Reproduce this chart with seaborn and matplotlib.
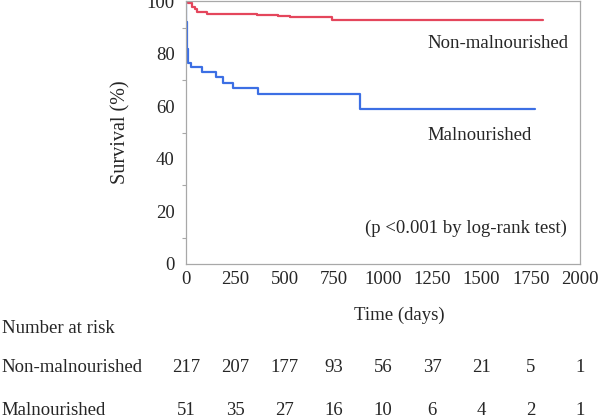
import numpy as np
import pandas as pd
import matplotlib
matplotlib.use('Agg')
import matplotlib.pyplot as plt
import matplotlib.transforms as mtransforms
import seaborn as sns

# Kaplan-Meier curves
non_mal_days = [0, 10, 30, 46, 56, 107, 360, 467, 528, 741, 1812]
non_mal_surv = [100, 99.2, 97.7, 97.0, 95.8, 95.3, 94.7, 94.3, 94.0, 93.0, 93.0]
mal_days = [0, 1, 2, 3, 4, 5, 6, 7, 8, 12, 25, 80, 150, 190, 240, 365, 885, 1770]
mal_surv = [100, 96, 92, 90, 88, 86, 84, 82, 78.5, 76.5, 75, 73, 71, 69, 67, 64.7, 58.8, 58.8]

# Number at risk table
risk_days = [0, 250, 500, 750, 1000, 1250, 1500, 1750, 2000]
risk_non_mal = [217, 207, 177, 93, 56, 37, 21, 5, 1]
risk_mal = [51, 35, 27, 16, 10, 6, 4, 2, 1]

RED = '#e4465c'
BLUE = '#3c6fe4'
GREY = '#a8a8a8'
FS = 13.5

sns.set_style('white')
plt.rcParams['font.family'] = ['Liberation Serif', 'DejaVu Serif']

df = pd.concat([
    pd.DataFrame({'days': non_mal_days, 'surv': non_mal_surv, 'group': 'Non-malnourished'}),
    pd.DataFrame({'days': mal_days, 'surv': mal_surv, 'group': 'Malnourished'}),
])

fig = plt.figure(figsize=(5.98, 4.19), dpi=100)
ax = fig.add_axes([0.311, 0.370, 0.659, 0.627])

sns.lineplot(data=df, x='days', y='surv', hue='group', estimator=None,
             palette={'Non-malnourished': RED, 'Malnourished': BLUE},
             drawstyle='steps-post', linewidth=1.6, legend=False, ax=ax)

ax.set_xlim(0, 2000)
ax.set_ylim(0, 100)
ax.set_xticks(risk_days)
ax.set_yticks(range(0, 101, 20))
ax.set_yticks(range(10, 100, 20), minor=True)
ax.tick_params(axis='both', which='major', direction='out', length=6, width=0.8,
               color=GREY, labelsize=FS, pad=2)
ax.tick_params(axis='y', which='minor', direction='out', length=3, width=0.8,
               color=GREY, left=True)
ax.tick_params(axis='x', which='major', length=3)
for sp in ax.spines.values():
    sp.set_color(GREY)
    sp.set_linewidth(0.9)

ax.set_xlabel('')
ax.set_ylabel('Survival (%)', fontsize=14.5, labelpad=12)

ax.text(1223, 84, 'Non-malnourished', fontsize=FS, va='center', ha='left')
ax.text(1223, 49, 'Malnourished', fontsize=FS, va='center', ha='left')
ax.text(1421, 13.7, '(p <0.001 by log-rank test)', fontsize=FS, va='center', ha='center')

# risk table below the axes
tr = mtransforms.blended_transform_factory(ax.transData, fig.transFigure)
fig.text(0.667, 0.248, 'Time (days)', fontsize=FS, ha='center', va='center')
fig.text(0.003, 0.217, 'Number at risk', fontsize=FS, ha='left', va='center')
fig.text(0.003, 0.124, 'Non-malnourished', fontsize=FS, ha='left', va='center')
fig.text(0.003, 0.021, 'Malnourished', fontsize=FS, ha='left', va='center')
for d, a, b in zip(risk_days, risk_non_mal, risk_mal):
    ax.text(d, 0.124, str(a), transform=tr, fontsize=FS, ha='center', va='center', clip_on=False)
    ax.text(d, 0.021, str(b), transform=tr, fontsize=FS, ha='center', va='center', clip_on=False)

fig.savefig('out.png', dpi=100)
